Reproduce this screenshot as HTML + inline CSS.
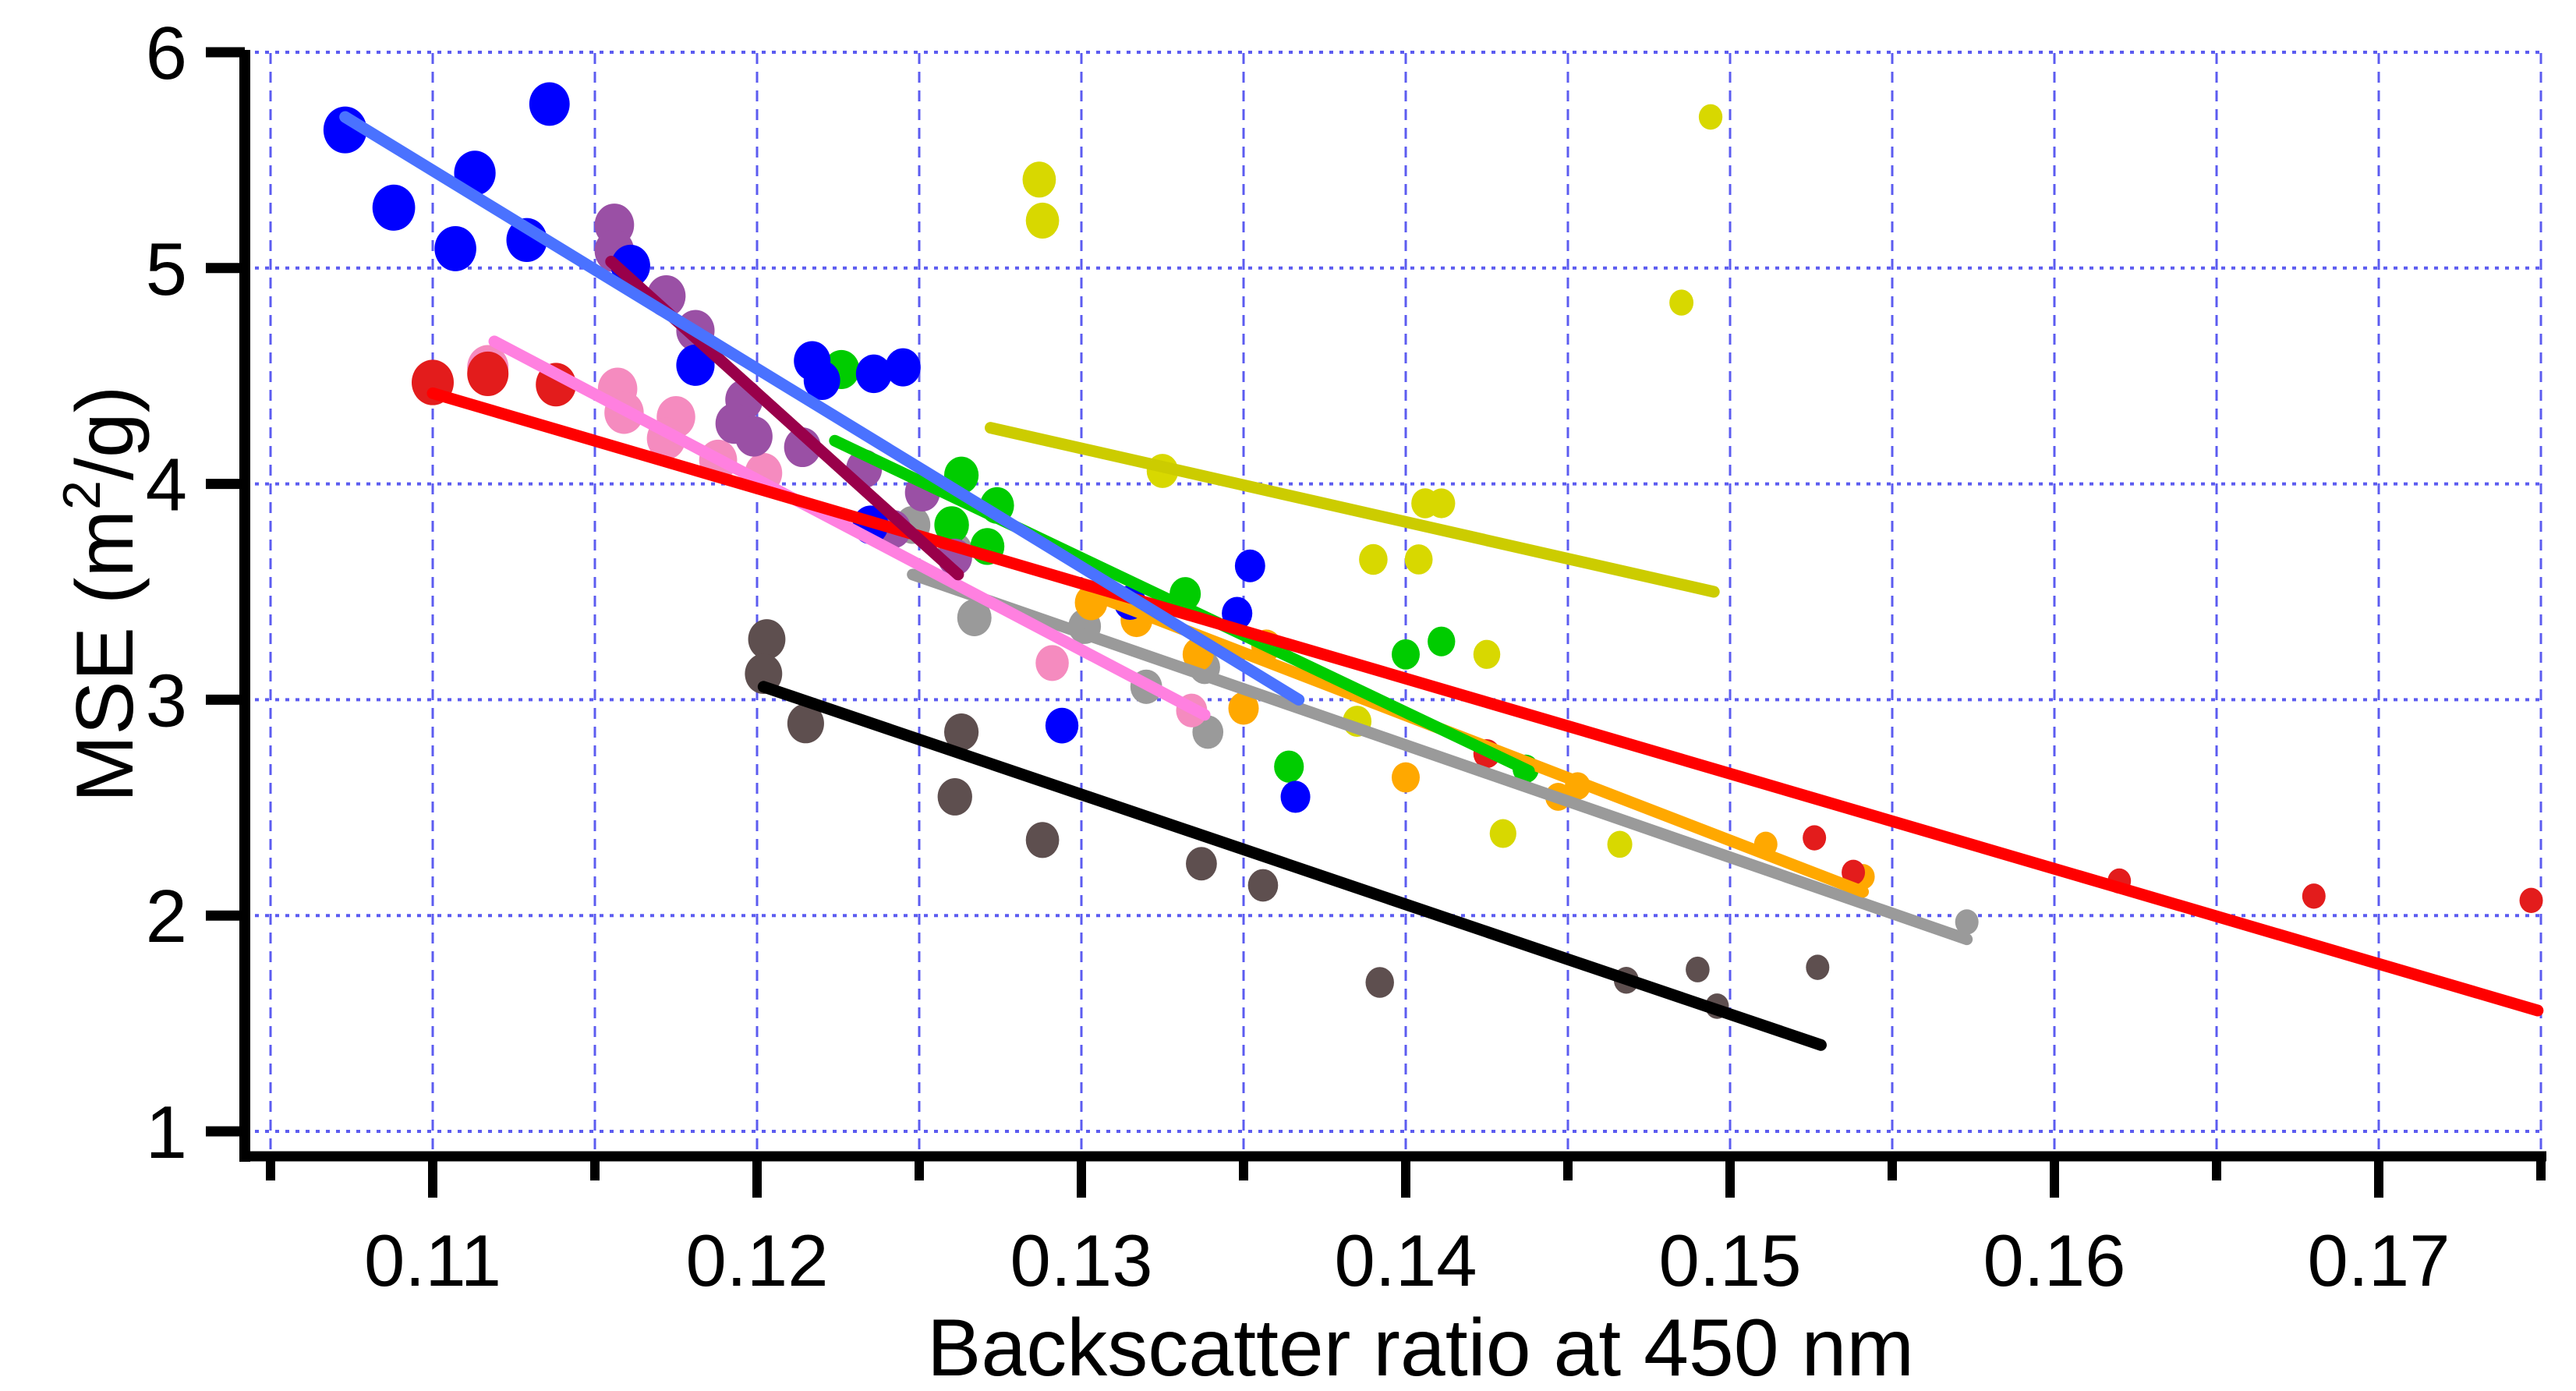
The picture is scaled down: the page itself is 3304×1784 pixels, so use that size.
<!DOCTYPE html>
<html><head><meta charset="utf-8"><style>
html,body{margin:0;padding:0;background:#fff}
svg{display:block}
text{font-family:"Liberation Sans",Arial,sans-serif;fill:#000}
</style></head><body>
<svg id="chart" width="3304" height="1784" viewBox="0 0 3304 1784" xmlns="http://www.w3.org/2000/svg">
<g id="grid"></g>
<g id="points"></g>
<g id="lines"></g>
<g id="axes"></g>
<text x="1822" y="1764" font-size="104" text-anchor="middle">Backscatter ratio at 450 nm</text>
<text transform="translate(170,762) rotate(-90)" font-size="104" text-anchor="middle">MSE (m<tspan dy="-42" font-size="68">2</tspan><tspan dy="42">/g)</tspan></text>
</svg>
<script>
const xTicks=[0.11,0.12,0.13,0.14,0.15,0.16,0.17];
const xTickLabels=["0.11","0.12","0.13","0.14","0.15","0.16","0.17"];
const xMinor=[0.105,0.115,0.125,0.135,0.145,0.155,0.165,0.175];
const yTicks=[1,2,3,4,5,6];
const yTickLabels=["1","2","3","4","5","6"];

const blueX=[0.1073,0.1088,0.1113,0.1107,0.1129,0.1136,0.1161,0.1181,0.1217,0.1220,0.1236,0.1245,0.1235,0.1315,0.1352,0.1348,0.1294,0.1366];
const blueY=[5.64,5.28,5.44,5.09,5.13,5.76,5.01,4.55,4.57,4.48,4.51,4.54,3.81,3.45,3.62,3.40,2.88,2.55];
const purpleX=[0.1156,0.1156,0.1172,0.1181,0.1196,0.1193,0.1199,0.1214,0.1233,0.1242,0.1251,0.1261];
const purpleY=[5.20,5.08,4.87,4.71,4.39,4.28,4.22,4.17,4.07,3.79,3.96,3.66];
const redX=[0.1100,0.1117,0.1138,0.1425,0.1526,0.1538,0.1620,0.1680,0.1747];
const redY=[4.47,4.51,4.46,2.75,2.36,2.20,2.16,2.09,2.07];
const pinkX=[0.1117,0.1157,0.1159,0.1175,0.1172,0.1188,0.1202,0.1291,0.1334];
const pinkY=[4.54,4.44,4.33,4.31,4.21,4.11,4.05,3.17,2.95];
const greenX=[0.1226,0.1263,0.1260,0.1271,0.1274,0.1332,0.1400,0.1411,0.1364,0.1437];
const greenY=[4.53,4.04,3.81,3.71,3.90,3.49,3.21,3.27,2.69,2.68];
const yellowX=[0.1287,0.1288,0.1325,0.1390,0.1404,0.1406,0.1411,0.1425,0.1430,0.1466,0.1485,0.1494,0.1385];
const yellowY=[5.41,5.22,4.06,3.65,3.65,3.91,3.91,3.21,2.38,2.33,4.84,5.70,2.90];
const orangeX=[0.1303,0.1317,0.1336,0.1350,0.1357,0.1400,0.1453,0.1447,0.1511,0.1541];
const orangeY=[3.45,3.37,3.21,2.96,3.25,2.64,2.60,2.55,2.33,2.18];
const grayX=[0.1248,0.1261,0.1267,0.1301,0.1320,0.1338,0.1339,0.1573];
const grayY=[3.81,3.69,3.38,3.34,3.06,3.15,2.85,1.97];
const brownX=[0.1203,0.1202,0.1215,0.1263,0.1261,0.1288,0.1337,0.1356,0.1392,0.1468,0.1490,0.1496,0.1527];
const brownY=[3.28,3.12,2.89,2.85,2.55,2.35,2.24,2.14,1.69,1.70,1.75,1.58,1.76];

const blueFitX=[0.1073,0.1367], blueFitY=[5.70,3.00];
const maroonFitX=[0.1155,0.1262], maroonFitY=[5.03,3.58];
const redFitX=[0.1100,0.1749], redFitY=[4.42,1.56];
const pinkFitX=[0.1119,0.1338], pinkFitY=[4.66,2.93];
const greenFitX=[0.1224,0.1438], greenFitY=[4.20,2.67];
const yellowFitX=[0.1272,0.1495], yellowFitY=[4.26,3.50];
const orangeFitX=[0.1303,0.1541], orangeFitY=[3.49,2.11];
const grayFitX=[0.1248,0.1573], grayFitY=[3.58,1.89];
const blackFitX=[0.1202,0.1528], blackFitY=[3.06,1.40];

const NS="http://www.w3.org/2000/svg";
function X(v){return 555+(v-0.11)*41600;}
function Y(v){return 1451-(v-1)*276.8;}
function mk(tag,parent,attrs){const e=document.createElementNS(NS,tag);for(const k in attrs)e.setAttribute(k,attrs[k]);parent.appendChild(e);return e;}
const grid=document.getElementById('grid'),lines=document.getElementById('lines'),pts=document.getElementById('points'),axes=document.getElementById('axes');
const L=314,R=3262,T=68,B=1483;
xTicks.concat(xMinor).forEach(v=>{const e=mk('line',grid,{x1:X(v),x2:X(v),y1:T,y2:B,stroke:'#5c5cf0','stroke-width':3,'stroke-dasharray':'14 10'});

});
yTicks.forEach(v=>{const e=mk('line',grid,{x1:L,x2:R,y1:Y(v),y2:Y(v),stroke:'#5c5cf0','stroke-width':4,'stroke-dasharray':'5 8'});

});
function fit(xs,ys,color,name){const e=mk('line',lines,{x1:X(xs[0]),y1:Y(ys[0]),x2:X(xs[1]),y2:Y(ys[1]),stroke:color,'stroke-width':15,'stroke-linecap':'round'});

}
function series(xs,ys,color,name){xs.forEach((v,i)=>{const r=Math.max(15,27-(v-0.11)*300);
const e=mk('ellipse',pts,{cx:X(v),cy:Y(ys[i]),rx:r,ry:r*1.08,fill:color});

});}
series(brownX,brownY,'#5e4f4f','brown-point');
series(grayX,grayY,'#9a9a9a','gray-point');
series(orangeX,orangeY,'#ffa800','orange-point');
series(yellowX,yellowY,'#d8d800','yellow-point');
series(greenX,greenY,'#00cc00','green-point');
series(pinkX,pinkY,'#f58bbf','pink-point');
series(redX,redY,'#e31c1c','red-point');
series(purpleX,purpleY,'#9a50a5','purple-point');
series(blueX,blueY,'#0000ff','blue-point');
fit(blackFitX,blackFitY,'#000000','black-fit-line');
fit(grayFitX,grayFitY,'#9a9a9a','gray-fit-line');
fit(orangeFitX,orangeFitY,'#ffa800','orange-fit-line');
fit(yellowFitX,yellowFitY,'#cccc00','yellow-fit-line');
fit(greenFitX,greenFitY,'#00cc00','green-fit-line');
fit(pinkFitX,pinkFitY,'#ff80e0','pink-fit-line');
fit(redFitX,redFitY,'#ff0000','red-fit-line');
fit(maroonFitX,maroonFitY,'#99004a','maroon-fit-line');
fit(blueFitX,blueFitY,'#4a72ff','blue-fit-line');
let e=mk('line',axes,{x1:L,x2:L,y1:T-4,y2:B+7,stroke:'#000','stroke-width':14});


e=mk('line',axes,{x1:L-7,x2:3266,y1:B,y2:B,stroke:'#000','stroke-width':13});


yTicks.forEach((v,i)=>{let t=mk('line',axes,{x1:264,x2:L,y1:Y(v),y2:Y(v),stroke:'#000','stroke-width':13});


let tx=mk('text',axes,{x:240,y:Y(v)+34,'font-size':96,'text-anchor':'end'});tx.textContent=yTickLabels[i];

});
xTicks.forEach((v,i)=>{let t=mk('line',axes,{x1:X(v),x2:X(v),y1:B,y2:1536,stroke:'#000','stroke-width':12});


let tx=mk('text',axes,{x:X(v),y:1649,'font-size':94,'text-anchor':'middle'});tx.textContent=xTickLabels[i];

});
xMinor.forEach(v=>{let t=mk('line',axes,{x1:X(v),x2:X(v),y1:B,y2:1514,stroke:'#000','stroke-width':12});

});
</script>
</body></html>
